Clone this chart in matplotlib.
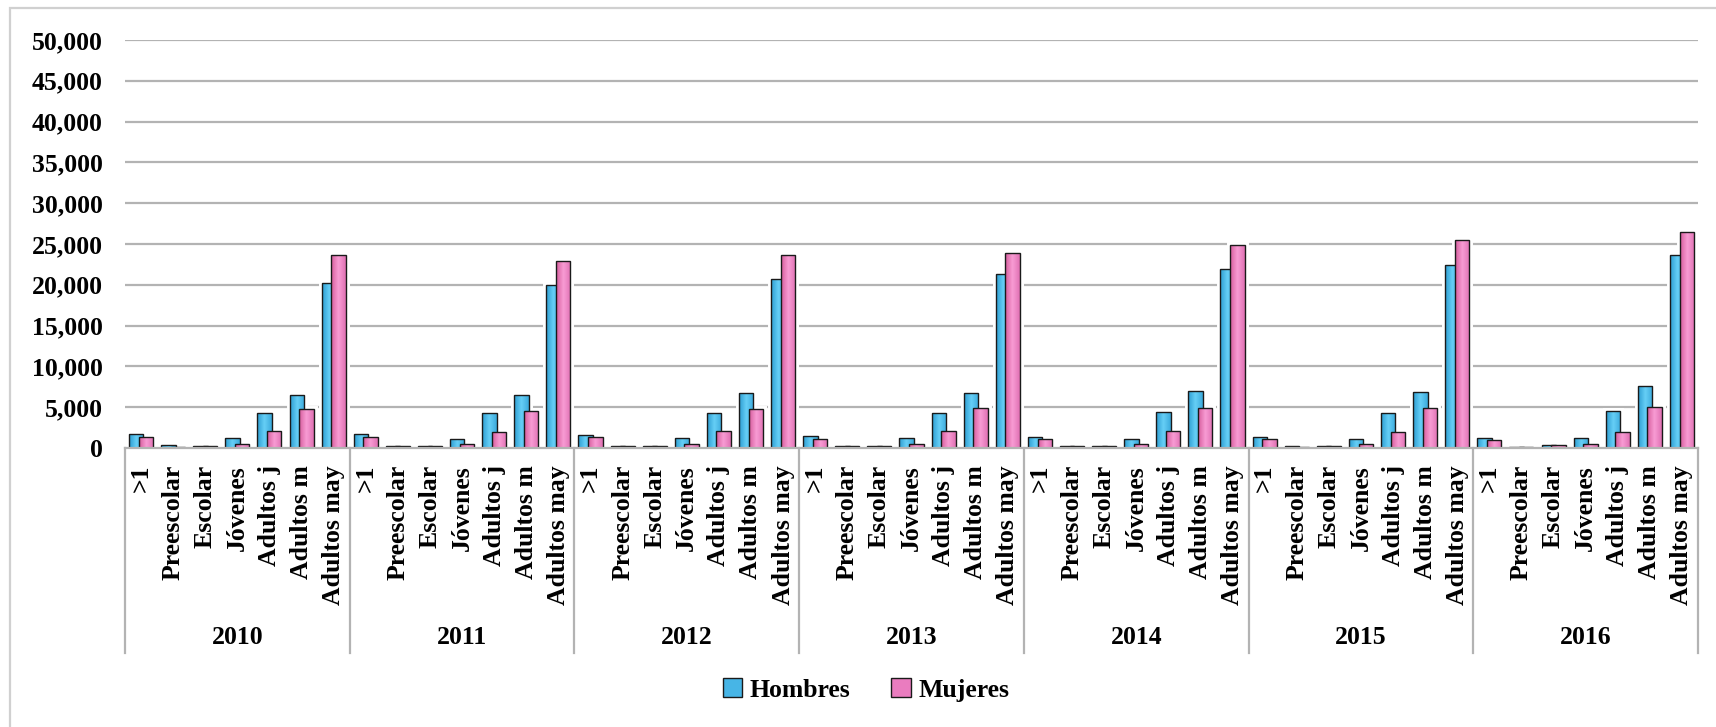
import numpy as np
import matplotlib
matplotlib.use('Agg')
from matplotlib import pyplot as plt
from matplotlib.patches import Rectangle, Patch
from matplotlib.colors import LinearSegmentedColormap
from matplotlib.transforms import blended_transform_factory

# data
years = ['2010', '2011', '2012', '2013', '2014', '2015', '2016']
grupos = ['>1', 'Preescolar', 'Escolar', 'Jóvenes', 'Adultos j', 'Adultos m', 'Adultos may']

hombres = [
    [1700, 330, 300, 1190, 4250, 6450, 20260],
    [1700, 300, 300, 1150, 4250, 6450, 20000],
    [1600, 300, 300, 1200, 4300, 6700, 20700],
    [1500, 300, 300, 1200, 4300, 6800, 21300],
    [1350, 300, 300, 1050, 4400, 6950, 21900],
    [1350, 200, 300, 1060, 4250, 6820, 22400],
    [1190, 160, 330, 1190, 4550, 7640, 23650],
]
mujeres = [
    [1350, 150, 300, 490, 2040, 4780, 23610],
    [1300, 300, 300, 450, 2000, 4530, 22900],
    [1350, 200, 300, 500, 2100, 4800, 23600],
    [1150, 200, 250, 500, 2100, 4950, 23900],
    [1050, 200, 300, 500, 2050, 4950, 24900],
    [1050, 150, 300, 490, 2000, 4940, 25500],
    [980, 160, 330, 490, 2000, 5070, 26500],
]

yticks = np.arange(0, 50001, 5000)

plt.rcParams['font.family'] = ['Liberation Serif', 'DejaVu Serif']
plt.rcParams['font.weight'] = 'bold'
fs = 18.5

W, H = 1716, 727
fig = plt.figure(figsize=(W / 100, H / 100), dpi=100)

# light frame around the chart area (runs off the right and bottom)
fig.patches.append(Rectangle((10 / W, -0.1), 1.2, 1 - 8 / H + 0.1,
                             transform=fig.transFigure, fill=False,
                             edgecolor='#d0d0d0', linewidth=1.6))

left, right = 125 / W, 1698 / W
bottom, top = 1 - 448 / H, 1 - 40 / H
ax = fig.add_axes([left, bottom, right - left, top - bottom])

h = np.array(hombres).ravel()
m = np.array(mujeres).ravel()
n = len(h)
x = np.arange(n) + 0.5

blue = '#47b5e6'
pink = '#ea7cbf'
blue_map = LinearSegmentedColormap.from_list('b', ['#2d9dd2', '#66cff6', '#3aaadc'])
pink_map = LinearSegmentedColormap.from_list('p', ['#d65c9c', '#f89cd4', '#e070b3'])
grad = np.linspace(0, 1, 64).reshape(1, -1)
bw = 0.45
off = 0.15

for yv in yticks[1:]:
    ax.axhline(yv, color='#b3b3b3', linewidth=1.6, zorder=0)

# white halo around bars (gridlines stop short of them)
ax.bar(x - off, h, bw, color='white', edgecolor='white', linewidth=5, zorder=1)
ax.bar(x + off, m, bw, color='white', edgecolor='white', linewidth=5, zorder=1)


def shaded_bars(xs, vals, color, cmap, z):
    bars = ax.bar(xs, vals, bw, color=color, linewidth=0, zorder=z)
    for b in bars:
        x0, w_, hh = b.get_x(), b.get_width(), b.get_height()
        im = ax.imshow(grad, cmap=cmap, extent=[x0, x0 + w_, 0, hh],
                       aspect='auto', zorder=z + 0.1, interpolation='bilinear')
        im.set_clip_path(b)
    ax.bar(xs, vals, bw, fill=False, edgecolor='#1a1a1a', linewidth=1.0, zorder=z + 0.2)


shaded_bars(x - off, h, blue, blue_map, 2)
shaded_bars(x + off, m, pink, pink_map, 3)

ax.set_xlim(0, n)
ax.set_ylim(0, 50000)

for s in ['top', 'right', 'left']:
    ax.spines[s].set_visible(False)
ax.spines['bottom'].set_color('#b3b3b3')
ax.spines['bottom'].set_linewidth(1.6)
ax.spines['bottom'].set_zorder(5)

ax.set_yticks(yticks)
ax.set_yticklabels(['{:,}'.format(v) for v in yticks])
ax.set_xticks([])
ax.tick_params(axis='y', length=0, pad=16, labelsize=fs)
for t in ax.get_yticklabels():
    t.set_fontweight('bold')

ax_h = 448 - 40
trans = blended_transform_factory(ax.transData, ax.transAxes)
ng = len(grupos)

# category labels
for i in range(n):
    ax.text(x[i], -(465 - 448) / ax_h, grupos[i % ng], transform=trans,
            rotation=90, ha='center', va='top', fontsize=fs, fontweight='bold')

# group separators and year labels
for k in range(len(years) + 1):
    ax.plot([k * ng, k * ng], [0, -(653 - 448) / ax_h], transform=trans,
            color='#b3b3b3', linewidth=1.6, clip_on=False)
for k, yr in enumerate(years):
    ax.text(k * ng + ng / 2, -(638 - 448) / ax_h, yr, transform=trans,
            ha='center', va='center', fontsize=fs, fontweight='bold')

handles = [Patch(facecolor=blue, edgecolor='#1a1a1a', label='Hombres'),
           Patch(facecolor=pink, edgecolor='#1a1a1a', label='Mujeres')]
fig.legend(handles=handles, loc='center', bbox_to_anchor=(866 / W, 1 - 690 / H),
           ncol=2, frameon=False, handlelength=0.75, handleheight=0.75,
           handletextpad=0.3, columnspacing=1.6, prop={'size': fs, 'weight': 'bold'})

fig.savefig('out.png', dpi=100)
